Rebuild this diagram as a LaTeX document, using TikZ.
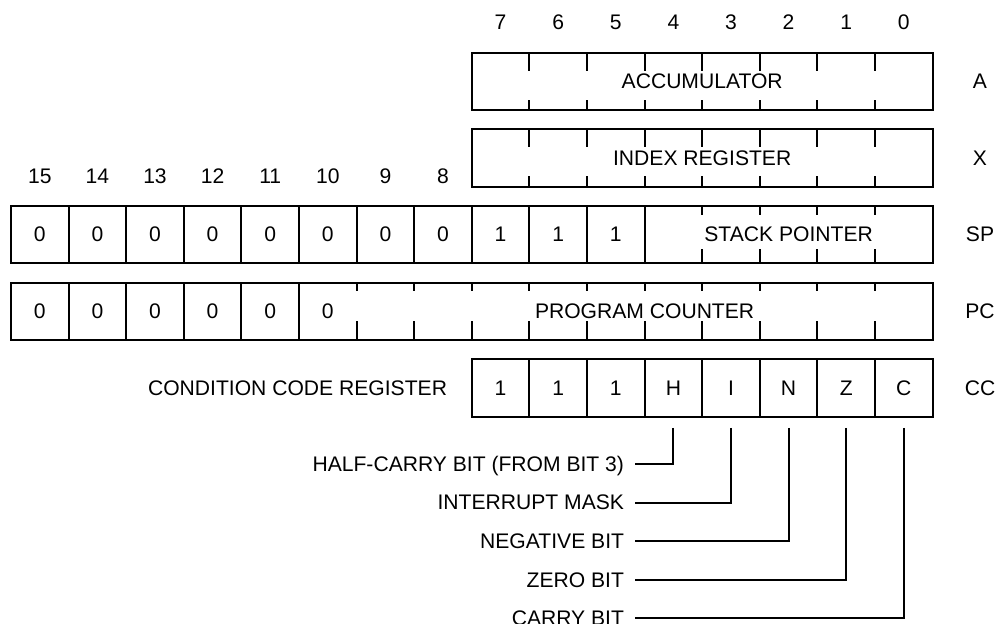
\documentclass[tikz,border=0pt]{standalone}
\usepackage{fontspec}
\setmainfont{Liberation Sans}
\begin{document}
\begin{tikzpicture}[x=0.5pt, y=-0.5pt, line width=1pt,
	every node/.style={inner sep=0pt, font=\fontsize{10.55}{12}\selectfont, text height=0.72em, text depth=0pt},
	ccbit/.style={draw, minimum width=28.8pt, minimum height=28.75pt}]
	
	\useasboundingbox (0,0) rectangle (995,623);
	
	\def\cw{57.6}
	\def\rh{57.5}
	\def\xr{932.6}
	% left edge of bit #1
	\def\bx#1{11+(15-#1)*\cw}
	
	% bit numbers
	\foreach \b in {7,...,0}
		\node (n\b) at ({\bx{\b}+\cw/2}, 22.7) {\b};
	\foreach \b in {15,...,8}
		\node (n\b) at ({\bx{\b}+\cw/2}, 176) {\b};
	
	% accumulator and index register
	\foreach \t/\lbl/\nm/\up/\dn in {52.7/ACCUMULATOR/A/18/10, 129.3/INDEX REGISTER/X/18/11}{
		\draw ({\bx{7}},\t) rectangle (\xr,\t+\rh);
		\foreach \b in {6,...,0}
			\draw ({\bx{\b}},\t) -- ++(0,\up) ({\bx{\b}},\t+\rh) -- ++(0,-\dn);
		\node (\nm reg) at ({(\bx{7}+\xr)/2}, \t+\rh/2) {\lbl};
		\node (\nm) at (980, \t+\rh/2) {\nm};
	}
	
	% stack pointer
	\def\ys{205.9}
	\draw ({\bx{15}},\ys) rectangle (\xr,\ys+\rh);
	\foreach \b in {14,...,4}
		\draw ({\bx{\b}},\ys) -- ++(0,\rh);
	\foreach \b in {3,...,0}
		\draw ({\bx{\b}},\ys) -- ++(0,9) ({\bx{\b}},\ys+\rh) -- ++(0,-14);
	\foreach \b/\v in {15/0,14/0,13/0,12/0,11/0,10/0,9/0,8/0,7/1,6/1,5/1}
		\node (sp\b) at ({\bx{\b}+\cw/2}, \ys+\rh/2) {\v};
	\node (spreg) at ({(\bx{4}+\xr)/2}, \ys+\rh/2) {STACK POINTER};
	\node (SP) at (980, \ys+\rh/2) {SP};
	
	% program counter
	\def\yp{282.6}
	\draw ({\bx{15}},\yp) rectangle (\xr,\yp+\rh);
	\foreach \b in {14,...,10}
		\draw ({\bx{\b}},\yp) -- ++(0,\rh);
	\foreach \b in {9,...,0}
		\draw ({\bx{\b}},\yp) -- ++(0,8) ({\bx{\b}},\yp+\rh) -- ++(0,-19);
	\foreach \b in {15,...,10}
		\node (pc\b) at ({\bx{\b}+\cw/2}, \yp+\rh/2) {0};
	\node (pcreg) at ({(\bx{9}+\xr)/2}, \yp+\rh/2) {PROGRAM COUNTER};
	\node (PC) at (980, \yp+\rh/2) {PC};
	
	% condition code register
	\def\yc{359.3}
	\foreach \b/\v in {7/1,6/1,5/1,4/H,3/I,2/N,1/Z,0/C}
		\node[ccbit] (cc\b) at ({\bx{\b}+\cw/2}, \yc+\rh/2) {\v};
	\node[anchor=east] (ccname) at (448, \yc+\rh/2) {CONDITION CODE REGISTER};
	\node (CC) at (980, \yc+\rh/2) {CC};
	
	\foreach \b/\lbl [count=\i from 0] in {4/HALF-CARRY BIT (FROM BIT 3), 3/INTERRUPT MASK, 2/NEGATIVE BIT, 1/ZERO BIT, 0/CARRY BIT}{
		\node[anchor=east] (l\b) at (625, 464+38.6*\i) {\lbl};
		\draw ([yshift=-5pt]cc\b.south) |- ([xshift=5pt]l\b.east);
	}
	
\end{tikzpicture}
\end{document}
